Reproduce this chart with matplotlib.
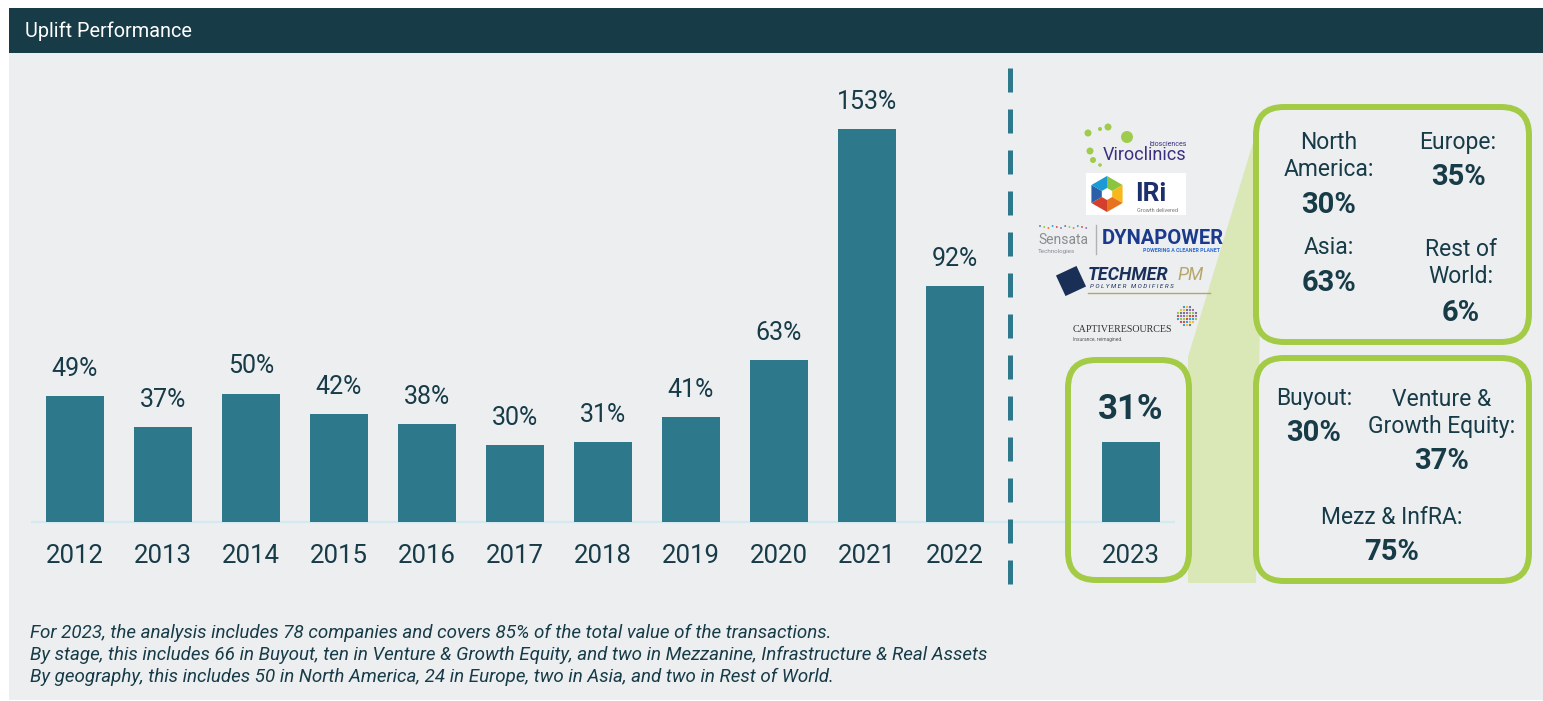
import numpy as np
import matplotlib.pyplot as plt
from matplotlib.patches import Rectangle, FancyBboxPatch, Polygon, Circle, RegularPolygon

# data
years = ['2012', '2013', '2014', '2015', '2016', '2017', '2018', '2019', '2020', '2021', '2022']
uplift = [49, 37, 50, 42, 38, 30, 31, 41, 63, 153, 92]
year_2023 = '2023'
uplift_2023 = 31

region_labels = ['North\nAmerica:', 'Europe:', 'Asia:', 'Rest of\nWorld:']
region_values = ['30%', '35%', '63%', '6%']
stage_labels = ['Buyout:', 'Venture &\nGrowth Equity:', 'Mezz & InfRA:']
stage_values = ['30%', '37%', '75%']

notes = [
    "For 2023, the analysis includes 78 companies and covers 85% of the total value of the transactions.",
    "By stage, this includes 66 in Buyout, ten in Venture & Growth Equity, and two in Mezzanine, Infrastructure & Real Assets",
    "By geography, this includes 50 in North America, 24 in Europe, two in Asia, and two in Rest of World.",
]

W, H = 1543, 701
DARK = '#173b47'
BAR = '#2e788c'
GREEN = '#a4cb46'
LIGHTGREEN = '#d9e8b6'
PANEL = '#eceef0'

plt.rcParams['font.family'] = ['Roboto', 'DejaVu Sans']

fig = plt.figure(figsize=(W / 100, H / 100), dpi=100, facecolor='white')

# background layer (pixel coords)
bg = fig.add_axes([0, 0, 1, 1], zorder=0)
bg.set_xlim(0, W)
bg.set_ylim(H, 0)
bg.axis('off')
bg.add_patch(Rectangle((9, 53), W - 9, 647, color=PANEL, lw=0))
bg.add_patch(Rectangle((9, 8), W - 9, 45, color='#173c48', lw=0))
bg.text(25, 31, 'Uplift Performance', color='white', fontsize=14.3, va='center')

# bars
ax = fig.add_axes([0, 0, 1, 1], zorder=1)
ax.patch.set_alpha(0)
ax.axis('off')
step, x0, base, ppu = 88, 75, 522, 2.569
ax.set_xlim(-x0 / step, (W - x0) / step)
ax.set_ylim(-(H - base) / ppu, base / ppu)

pos = list(range(len(years)))
ax.hlines(0, -0.5, 12.5, color='#d3eaf0', lw=1.5, zorder=1)
ax.bar(pos, uplift, width=0.66, color=BAR, zorder=2)
for i, (y, v) in enumerate(zip(years, uplift)):
    ax.annotate(f'{v}%', (i, v), xytext=(0, 19.5), textcoords='offset points',
                ha='center', va='center', fontsize=18, color=DARK)
    ax.annotate(y, (i, 0), xytext=(0, -24.5), textcoords='offset points',
                ha='center', va='center', fontsize=18.5, color=DARK)

p23 = 12
ax.bar([p23], [uplift_2023], width=0.66, color=BAR, zorder=2)
ax.annotate(f'{uplift_2023}%', (p23, uplift_2023), xytext=(0, 23.5), textcoords='offset points',
            ha='center', va='center', fontsize=25, fontweight='bold', color=DARK)
ax.annotate(year_2023, (p23, 0), xytext=(0, -24.5), textcoords='offset points',
            ha='center', va='center', fontsize=18.5, color=DARK)

# decorations on top (pixel coords)
d = fig.add_axes([0, 0, 1, 1], zorder=2)
d.patch.set_alpha(0)
d.set_xlim(0, W)
d.set_ylim(H, 0)
d.axis('off')

d.plot([1010, 1010], [68, 600], color=BAR, lw=3.6, dashes=(4.8, 3.4), solid_capstyle='butt')

d.add_patch(Polygon([(1263, 110), (1188, 357), (1188, 583), (1256, 583)], closed=True,
                    color=LIGHTGREEN, lw=0, zorder=0))


def rbox(x1, y1, x2, y2, fill=True):
    d.add_patch(FancyBboxPatch((x1, y1), x2 - x1, y2 - y1,
                               boxstyle='round,pad=0,rounding_size=28',
                               facecolor=PANEL if fill else 'none', edgecolor=GREEN, lw=4.3, zorder=1))


rbox(1068, 360, 1189, 580, fill=False)
rbox(1256, 107, 1529, 342)
rbox(1256, 358, 1529, 581)

# geography box
lab_kw = dict(ha='center', va='center', fontsize=16.5, color=DARK, linespacing=1.2, zorder=3)
num_kw = dict(ha='center', va='center', fontsize=21, color=DARK, fontweight='bold', zorder=3)
d.text(1329, 156, region_labels[0], **lab_kw)
d.text(1329, 205, region_values[0], **num_kw)
d.text(1458, 143, region_labels[1], **lab_kw)
d.text(1458, 177, region_values[1], **num_kw)
d.text(1329, 248, region_labels[2], **lab_kw)
d.text(1329, 283, region_values[2], **num_kw)
d.text(1461, 263, region_labels[3], **lab_kw)
d.text(1461, 313, region_values[3], **num_kw)

# stage box
d.text(1314, 399, stage_labels[0], **lab_kw)
d.text(1314, 433, stage_values[0], **num_kw)
d.text(1442, 413, stage_labels[1], **lab_kw)
d.text(1442, 461, stage_values[1], **num_kw)
d.text(1392, 517, stage_labels[2], **lab_kw)
d.text(1392, 552, stage_values[2], **num_kw)

# logos (rough sketches)
for cx, cy, r in [(1088, 133, 3.5), (1100, 129, 2), (1108, 127, 3.5), (1127, 137, 6),
                  (1090, 151, 3.5), (1093, 160, 3), (1100, 165, 1.8)]:
    d.add_patch(Circle((cx, cy), r, color='#9fcc4c', lw=0, zorder=3))
d.text(1103, 155, 'Viroclinics', fontsize=13, color='#3c2f7f', va='center', ha='left', zorder=3)
d.text(1150, 145, 'biosciences', fontsize=5, color='#3c2f7f', va='center', ha='left', zorder=3)

d.add_patch(Rectangle((1086, 173), 100, 42, color='white', lw=0, zorder=3))
hex_cols = ['#8bc53f', '#f6b81a', '#e8731e', '#d33f2a', '#2b5fa8', '#1b9ad6']
hx, hy, hr = 1107, 194, 18
for k, c in enumerate(hex_cols):
    a1 = np.radians(-90 + 60 * k)
    a2 = np.radians(-30 + 60 * k)
    d.add_patch(Polygon([(hx, hy), (hx + hr * np.cos(a1), hy + hr * np.sin(a1)),
                         (hx + hr * np.cos(a2), hy + hr * np.sin(a2))],
                        closed=True, color=c, lw=0, zorder=4))
d.add_patch(RegularPolygon((hx, hy), 6, radius=6, color='white', lw=0, zorder=5))
d.text(1135, 194, 'IRi', fontsize=19, fontweight='bold', color='#1e2f6e', va='center', zorder=4)
d.text(1137, 211, 'Growth delivered', fontsize=4, color='#777777', va='center', zorder=4)

dot_cols = ['#5a6b8c', '#8bc53f', '#e8731e', '#1b9ad6', '#d33f2a', '#9b59b6']
for k in range(12):
    d.add_patch(Circle((1040 + k * 4.2, 226 + (k % 3)), 0.9, color=dot_cols[k % 6], lw=0, zorder=3))
d.text(1038, 240, 'Sensata', fontsize=10, color='#8a8d90', va='center', zorder=3)
d.text(1038, 252, 'Technologies', fontsize=4.5, color='#8a8d90', va='center', zorder=3)
d.plot([1096, 1096], [225, 254], color='#b0b3b6', lw=1, zorder=3)
d.text(1102, 239, 'DYNAPOWER', fontsize=14.5, fontweight='bold', color='#1c3a8c', va='center', zorder=3)
d.text(1143, 251, 'POWERING A CLEANER PLANET', fontsize=3.8, fontweight='bold', color='#2b6bd0',
       va='center', zorder=3)

d.add_patch(RegularPolygon((1071, 281), 4, radius=16, orientation=0.35, color='#1a2f55', lw=0, zorder=3))
d.text(1088, 275, 'TECHMER', fontsize=13, fontweight='bold', style='italic', color='#1a2f5a',
       va='center', zorder=3)
d.text(1177, 275, 'PM', fontsize=13, style='italic', color='#b5a76a', va='center', zorder=3)
d.text(1090, 287, 'P O L Y M E R   M O D I F I E R S', fontsize=4.5, style='italic', color='#1a2f5a',
       va='center', zorder=3)
d.plot([1088, 1210], [293, 293], color='#b5a76a', lw=1, zorder=3)

sphere_cols = ['#8bc53f', '#d33f2a', '#1b9ad6', '#f6b81a', '#5a6b8c', '#9b59b6']
n = 0
for gx in range(-3, 4):
    for gy in range(-3, 4):
        if gx * gx + gy * gy <= 10:
            d.add_patch(Circle((1187 + gx * 3, 316 + gy * 3), 1.1, color=sphere_cols[n % 6], lw=0, zorder=3))
            n += 1
d.text(1073, 329, 'CAPTIVERESOURCES', fontsize=7.2, family='Liberation Serif', color='#333333',
       va='center', zorder=3)
d.text(1073, 340, 'Insurance, reimagined.', fontsize=3.5, color='#555555', va='center', zorder=3)

# footnotes
for k, line in enumerate(notes):
    d.text(30, 633 + 22 * k, line, fontsize=13.5, style='italic', color=DARK, va='center', zorder=3)

fig.savefig('out.png', dpi=100, facecolor='white')
